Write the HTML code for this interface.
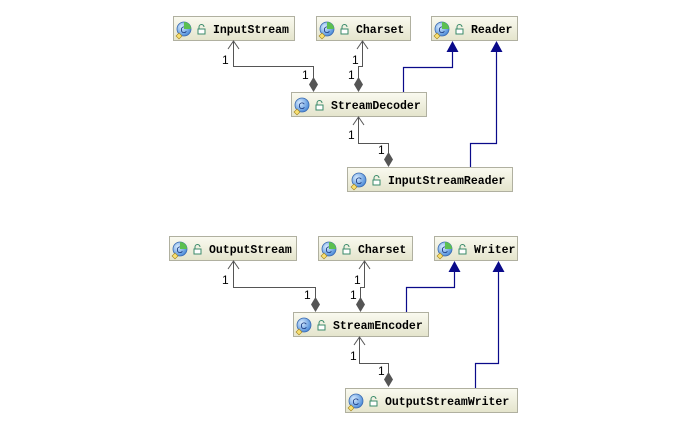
<!DOCTYPE html>
<html><head><meta charset="utf-8"><style>
html,body{margin:0;padding:0;background:#fff;width:688px;height:439px;overflow:hidden}
text{font-family:"Liberation Mono",monospace;font-weight:bold;font-size:11.5px;fill:#000}
.n{font-family:"Liberation Sans",sans-serif;font-weight:normal;font-size:12px}
</style></head><body>
<svg width="688" height="439" viewBox="0 0 688 439" xmlns="http://www.w3.org/2000/svg">
<defs>
<linearGradient id="g" x1="0" y1="0" x2="0" y2="1"><stop offset="0" stop-color="#fafaf0"/><stop offset="1" stop-color="#e4e4cc"/></linearGradient>
<radialGradient id="c" cx="0.35" cy="0.35" r="0.7"><stop offset="0" stop-color="#d8ecff"/><stop offset="1" stop-color="#4a8ad8"/></radialGradient>
<g id="ic">
<circle cx="11" cy="12" r="7" fill="url(#c)" stroke="#3a6ab0" stroke-width="0.8"/>
<text x="7.5" y="16" style="font-family:'Liberation Sans',sans-serif;font-size:9px;font-weight:normal;fill:#1a3a80">C</text>
<path d="M6 16 l3 3 l-3 3 l-3 -3z" fill="#f8e070" stroke="#a08020" stroke-width="0.6"/>
<rect x="25" y="12" width="7" height="5" fill="#fff" stroke="#3a8a6a" stroke-width="1"/>
<path d="M26 12 v-2 a2.5 2.5 0 0 1 5 0" fill="none" stroke="#3a8a6a" stroke-width="1"/>
</g>
<g id="ia"><use href="#ic"/><path d="M11 5 a7 7 0 0 1 7 7 h-7z" fill="#5cc050"/></g>
</defs>
<g stroke="#b0b0a0" fill="url(#g)" stroke-width="1">
<rect x="173.5" y="16.5" width="121" height="24"/>
<rect x="316.5" y="16.5" width="94" height="24"/>
<rect x="431.5" y="16.5" width="86" height="24"/>
<rect x="291.5" y="92.5" width="135" height="24"/>
<rect x="347.5" y="167.5" width="165" height="24"/>
<rect x="169.5" y="236.5" width="127" height="24"/>
<rect x="318.5" y="236.5" width="94" height="24"/>
<rect x="434.5" y="236.5" width="83" height="24"/>
<rect x="293.5" y="312.5" width="135" height="24"/>
<rect x="345.5" y="388.5" width="172" height="24"/>
</g>
<use href="#ia" x="173" y="17"/><text x="213" y="33">InputStream</text>
<use href="#ia" x="316" y="17"/><text x="356" y="33">Charset</text>
<use href="#ia" x="431" y="17"/><text x="471" y="33">Reader</text>
<use href="#ic" x="291" y="93"/><text x="331" y="109">StreamDecoder</text>
<use href="#ic" x="348" y="168"/><text x="388" y="184">InputStreamReader</text>
<use href="#ia" x="169" y="237"/><text x="209" y="253">OutputStream</text>
<use href="#ia" x="318" y="237"/><text x="358" y="253">Charset</text>
<use href="#ia" x="434" y="237"/><text x="474" y="253">Writer</text>
<use href="#ic" x="293" y="313"/><text x="333" y="329">StreamEncoder</text>
<use href="#ic" x="345" y="389"/><text x="385" y="405">OutputStreamWriter</text>

<g fill="none" stroke="#555" stroke-width="1">
<path d="M233.5 41 V66.5 H313.5 V78"/><path d="M228 49 l5.5 -8 l5.5 8"/>
<path d="M362.5 41 V66.5 H358.5 V78"/><path d="M357 49 l5.5 -8 l5.5 8"/>
<path d="M358.5 117 V143.5 H388.5 V153"/><path d="M353 125 l5.5 -8 l5.5 8"/>
<path d="M233.5 261 V287.5 H315.5 V298"/><path d="M228 269 l5.5 -8 l5.5 8"/>
<path d="M364.5 261 V287.5 H360.5 V298"/><path d="M359 269 l5.5 -8 l5.5 8"/>
<path d="M359.5 337 V363.5 H388.5 V373"/><path d="M354 345 l5.5 -8 l5.5 8"/>
</g>
<g fill="#555">
<path d="M313.5 77 l4.5 7.5 l-4.5 7.5 l-4.5 -7.5z"/>
<path d="M358.5 77 l4.5 7.5 l-4.5 7.5 l-4.5 -7.5z"/>
<path d="M388.5 152 l4.5 7.5 l-4.5 7.5 l-4.5 -7.5z"/>
<path d="M315.5 297 l4.5 7.5 l-4.5 7.5 l-4.5 -7.5z"/>
<path d="M360.5 297 l4.5 7.5 l-4.5 7.5 l-4.5 -7.5z"/>
<path d="M388.5 372 l4.5 7.5 l-4.5 7.5 l-4.5 -7.5z"/>
</g>
<g fill="none" stroke="#0a0a8a" stroke-width="1.2">
<path d="M403.5 92 V67.5 H452.5 V52"/>
<path d="M470.5 167 V143.5 H496.5 V52"/>
<path d="M406.5 312 V287.5 H454.5 V272"/>
<path d="M475.5 388 V363.5 H498.5 V272"/>
</g>
<g fill="#0a0a8a">
<path d="M452.5 41 l6 11 h-12z"/><path d="M496.5 41 l6 11 h-12z"/>
<path d="M454.5 261 l6 11 h-12z"/><path d="M498.5 261 l6 11 h-12z"/>
</g>
<g class="n">
<text class="n" x="222" y="64">1</text><text class="n" x="302" y="79">1</text>
<text class="n" x="352" y="64">1</text><text class="n" x="348" y="79">1</text>
<text class="n" x="348" y="139">1</text><text class="n" x="378" y="154">1</text>
<text class="n" x="222" y="284">1</text><text class="n" x="304" y="299">1</text>
<text class="n" x="354" y="284">1</text><text class="n" x="350" y="299">1</text>
<text class="n" x="350" y="360">1</text><text class="n" x="378" y="375">1</text>
</g>
</svg>
</body></html>
